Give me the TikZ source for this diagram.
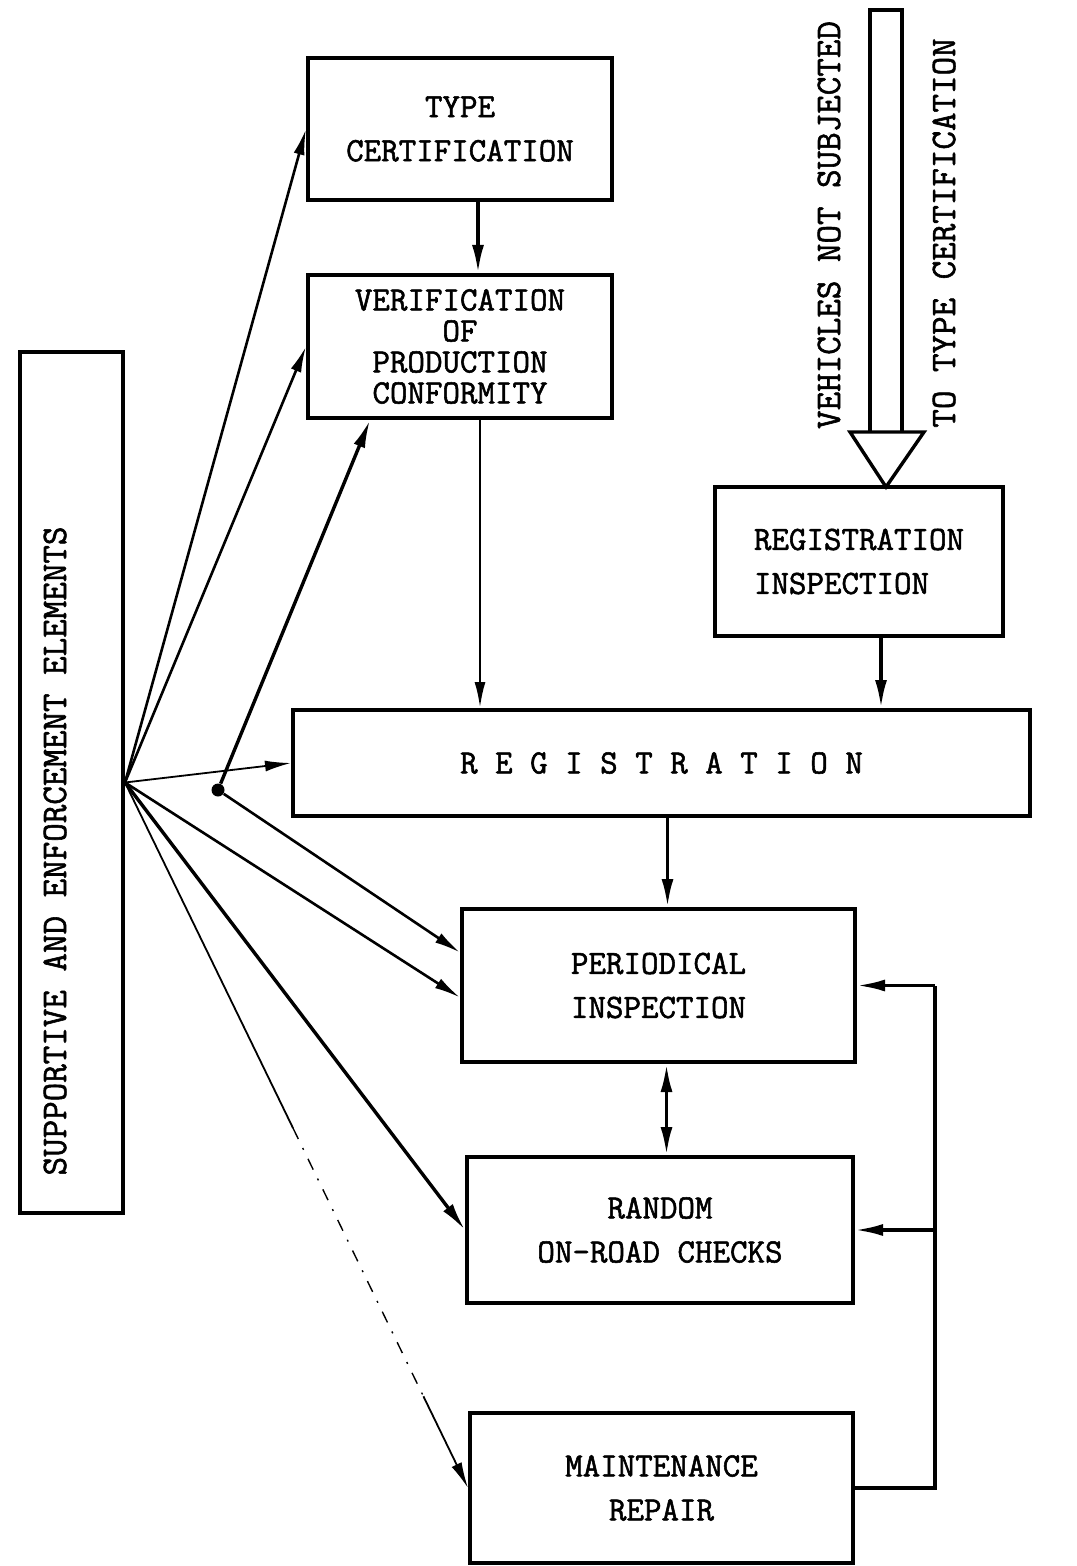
\documentclass[tikz,border=0pt]{standalone}
\usepackage{fontspec}
\newfontfamily\typefont{Latin Modern Mono}[FakeBold=1.6]
\usetikzlibrary{arrows.meta,calc}
\begin{document}
\begin{tikzpicture}[x=0.5pt,y=-0.5pt]
    % Stili
    \tikzstyle{box}=[rectangle, draw, line width=2pt, inner sep=0pt, align=center, font=\typefont\fontsize{17}{22}\selectfont]
    \tikzstyle{tight}=[font=\typefont\fontsize{17}{15.5}\selectfont]
    \tikzstyle{vtext}=[rotate=90, inner sep=0pt, font=\typefont\fontsize{18}{20}\selectfont]
    \tikzstyle{arrow}=[-{Latex[length=13pt,width=5.5pt]}, line width=1.3pt]
    \tikzstyle{thinarrow}=[-{Latex[length=13pt,width=5.5pt]}, line width=0.9pt]
    \tikzstyle{bigarrow}=[-{Latex[length=14pt,width=6pt]}, line width=1.7pt]
    \tikzstyle{dot}=[circle, fill, inner sep=0pt, minimum size=6.5pt]

    \useasboundingbox (0,0) rectangle (1076,1566);

    % Elementi di supporto
    \node[box, minimum width=51.5pt, minimum height=430.5pt] (sup) at (71.5,782.5) {};
    \node[vtext] (suptext) at (55,851) {SUPPORTIVE AND ENFORCEMENT ELEMENTS};

    % Blocchi principali
    \node[box, minimum width=152pt, minimum height=71pt] (type) at (460,129) {TYPE\\CERTIFICATION};
    \node[box, tight, minimum width=152pt, minimum height=71.5pt] (verif) at (460,346.5) {VERIFICATION\\OF\\PRODUCTION\\CONFORMITY};
    \node[box, align=left, minimum width=144pt, minimum height=74.5pt] (reginsp) at (859,561.5) {REGISTRATION\\INSPECTION};
    \node[box, minimum width=368.5pt, minimum height=53pt] (reg) at (661.5,763) {R E G I S T R A T I O N};
    \node[box, minimum width=196.5pt, minimum height=76.5pt] (per) at (658.5,985.5) {PERIODICAL\\INSPECTION};
    \node[box, minimum width=193pt, minimum height=73pt] (rand) at (660,1230) {RANDOM\\ON-ROAD CHECKS};
    \node[box, minimum width=191.5pt, minimum height=75pt] (maint) at (661.5,1488) {MAINTENANCE\\REPAIR};

    % Veicoli non soggetti
    \draw[line width=1.7pt] (870,432) -- (870,10) -- (902,10) -- (902,432);
    \draw[line width=1.7pt] (850,432) -- (924,432) -- (886,487) -- cycle;
    \node[vtext] (veh1) at (829,225) {VEHICLES NOT SUBJECTED};
    \node[vtext] (veh2) at (944,233) {TO TYPE CERTIFICATION};

    % Frecce verticali
    \draw[bigarrow] ([xshift=9pt]type.south) -- ([xshift=9pt]verif.north);
    \draw[arrow] ([xshift=10pt]verif.south) -- ([xshift=10pt]verif.south |- reg.north);
    \draw[bigarrow] ([xshift=11pt]reginsp.south) -- ([xshift=11pt]reginsp.south |- reg.north);
    \draw[bigarrow] ([xshift=3pt]reg.south) -- ([xshift=3pt]reg.south |- per.north);
    \draw[bigarrow, {Latex[length=14pt,width=6pt]}-{Latex[length=14pt,width=6pt]}] ([xshift=4pt]per.south) -- ([xshift=4pt]per.south |- rand.north);

    % Ritorno dalla manutenzione
    \coordinate (fb) at ($(maint.east)+(80,0)$);
    \draw[line width=1.7pt] (maint.east) -- (fb) -- (fb |- per.east);
    \draw[bigarrow] (fb |- per.east) -- (per.east);
    \draw[bigarrow] (fb |- rand.east) -- (rand.east);

    % Ventaglio di collegamenti
    \node[dot] (J) at (218,790) {};
    \draw[arrow] (sup.east) -- (type.west);
    \draw[arrow] (sup.east) -- (verif.west);
    \draw[thinarrow] (sup.east) -- (reg.west);
    \draw[bigarrow] (J) -- ([xshift=-45pt]verif.south);
    \draw[arrow] (J) -- ([yshift=16.5pt]per.west);
    \draw[arrow] (sup.east) -- ([yshift=-6pt]per.west);
    \draw[bigarrow] (sup.east) -- (rand.west);
    \coordinate (m1) at ($(sup.east)!0.49!(maint.west)$);
    \coordinate (m2) at ($(sup.east)!0.87!(maint.west)$);
    \draw[line width=0.9pt] (sup.east) -- (m1);
    \draw[line width=0.7pt, dash pattern=on 6pt off 5pt on 1pt off 5pt] (m1) -- (m2);
    \draw[thinarrow] (m2) -- (maint.west);
\end{tikzpicture}
\end{document}
